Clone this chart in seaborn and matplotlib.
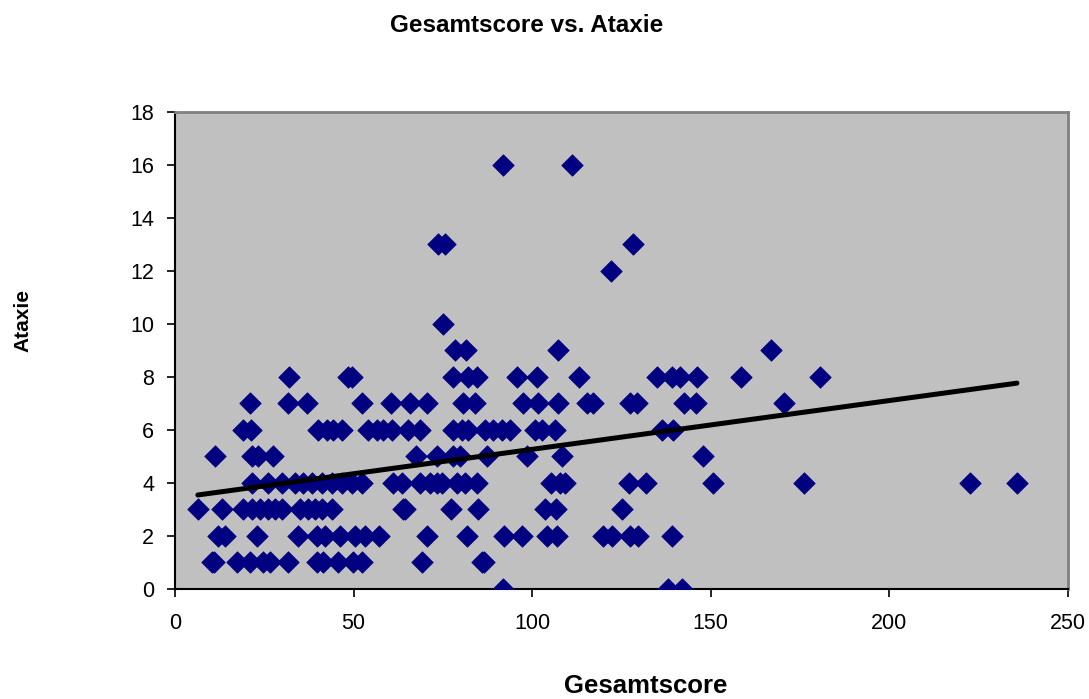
import numpy as np
import pandas as pd
import matplotlib
matplotlib.use('Agg')
import matplotlib.pyplot as plt
import seaborn as sns

sns.set_style('white')
plt.rcParams['font.family'] = ['Liberation Sans', 'DejaVu Sans']
plt.rcParams['text.color'] = 'black'
plt.rcParams['xtick.color'] = 'black'
plt.rcParams['ytick.color'] = 'black'

# Gesamtscore values, grouped by Ataxie level
x_at0 = [91.8, 138.0, 141.9]
x_at1 = [10.4, 11.0, 17.4, 21.0, 24.6, 26.6, 31.6, 39.8, 41.4, 45.6, 49.8, 52.4, 69.1, 85.9, 86.6]
x_at2 = [12.0, 14.0, 23.0, 34.4, 39.8, 42.0, 46.2, 50.4, 53.2, 57.1, 70.5, 81.7, 92.1, 97.1,
         104.1, 106.9, 119.8, 122.3, 127.4, 129.6, 139.1]
x_at3 = [6.4, 13.2, 19.0, 21.6, 23.8, 26.0, 28.0, 30.0, 35.0, 37.2, 39.2, 41.2, 44.0, 63.8,
         64.4, 77.3, 84.8, 103.6, 106.7, 125.1]
x_at4 = [21.6, 26.0, 30.0, 33.6, 35.8, 38.4, 41.2, 44.0, 46.8, 49.6, 52.4, 61.0, 63.6, 68.6,
         71.4, 73.3, 74.7, 78.9, 81.2, 84.5, 105.3, 107.8, 109.2, 127.1, 131.9, 150.6, 176.1,
         222.6, 235.7]
x_at5 = [11.2, 21.6, 23.2, 27.4, 67.5, 73.3, 77.8, 79.8, 87.3, 98.5, 108.3, 147.8]
x_at6 = [19.0, 21.3, 40.0, 42.6, 44.2, 46.8, 54.0, 56.6, 58.2, 60.8, 65.2, 68.6, 77.8, 80.3,
         82.0, 86.8, 89.0, 91.5, 93.8, 100.8, 102.7, 106.4, 136.3, 139.4]
x_at7 = [21.0, 31.6, 37.0, 52.4, 60.5, 65.8, 70.5, 80.6, 84.0, 97.4, 101.6, 107.2, 115.3,
         117.0, 127.4, 129.3, 142.5, 145.9, 170.5]
x_at8 = [31.9, 48.4, 49.6, 77.8, 82.0, 84.5, 95.7, 101.3, 113.1, 134.9, 139.1, 141.4, 146.1,
         158.5, 180.6]
x_at9 = [78.4, 81.5, 107.2, 166.9]
x_at10 = [75.0]
x_at12 = [122.0]
x_at13 = [73.7, 75.6, 128.2]
x_at16 = [91.8, 111.1]

groups = {0: x_at0, 1: x_at1, 2: x_at2, 3: x_at3, 4: x_at4, 5: x_at5, 6: x_at6, 7: x_at7,
          8: x_at8, 9: x_at9, 10: x_at10, 12: x_at12, 13: x_at13, 16: x_at16}

rows = []
for level, xs in groups.items():
    for xv in xs:
        rows.append((xv, level))
df = pd.DataFrame(rows, columns=['Gesamtscore', 'Ataxie'])

fig = plt.figure(figsize=(10.89, 6.99), dpi=100)
ax = fig.add_axes([0.1607, 0.1574, 0.82, 0.6826])
ax.set_facecolor('#C0C0C0')

sns.scatterplot(data=df, x='Gesamtscore', y='Ataxie', marker='D', s=120, color='#000080',
                edgecolor='#000080', linewidth=0.5, ax=ax, zorder=3)

# linear trendline
sns.regplot(data=df, x='Gesamtscore', y='Ataxie', scatter=False, ci=None, truncate=True,
            line_kws={'color': 'black', 'lw': 3.6, 'solid_capstyle': 'round', 'zorder': 4}, ax=ax)

ax.set_xlim(0, 250)
ax.set_ylim(0, 18)
ax.set_xticks(range(0, 251, 50))
ax.set_yticks(range(0, 19, 2))
ax.tick_params(axis='both', labelsize=15.5, length=6, width=1.2, direction='out', color='black',
               labelcolor='black', bottom=True, left=True)
ax.tick_params(axis='x', pad=11)
ax.tick_params(axis='y', pad=9)

for side in ['top', 'right']:
    ax.spines[side].set_color('#808080')
    ax.spines[side].set_linewidth(2)
for side in ['left', 'bottom']:
    ax.spines[side].set_color('black')
    ax.spines[side].set_linewidth(1.5)

ax.set_xlabel('')
ax.set_ylabel('')
fig.text(0.593, 1 - 686 / 699, 'Gesamtscore', ha='center', va='center', fontsize=18.5,
         fontweight='bold')
fig.text(0.021, 1 - 321 / 699, 'Ataxie', ha='center', va='center', rotation=90, fontsize=15,
         fontweight='bold')
fig.text(527 / 1089, 1 - 26 / 699, 'Gesamtscore vs. Ataxie', ha='center', va='center',
         fontsize=17.5, fontweight='bold')

fig.savefig('out.png', dpi=100)
